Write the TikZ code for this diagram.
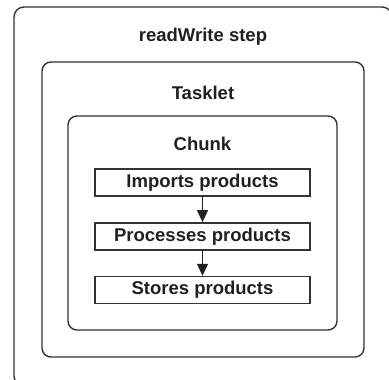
\documentclass[tikz,border=0pt]{standalone}
\usepackage{fontspec}
\setmainfont{Liberation Sans}
\usetikzlibrary{arrows.meta}
\definecolor{linegray}{HTML}{333333}
\definecolor{textblk}{HTML}{231F20}
\tikzset{
  container/.style={draw=linegray, line width=1.4pt, rounded corners=9pt},
  title/.style={text=textblk, font=\fontsize{18.5}{22}\selectfont\bfseries, inner sep=0pt},
  stepbox/.style={draw=linegray, line width=1.4pt, minimum width=215pt, minimum height=27pt,
    inner sep=0pt, text=textblk, font=\fontsize{18.5}{22}\selectfont\bfseries},
  flow/.style={draw=textblk, line width=1.3pt, -{Triangle[length=12pt,width=11pt]}, fill=textblk}
}
\begin{document}
\begin{tikzpicture}[x=1pt,y=-1pt]
\useasboundingbox (0,0) rectangle (389,380);
\clip (0,0) rectangle (389,380);
\draw[container, rounded corners=10pt] (14,7) rectangle (392,386);
\draw[container] (42,62) rectangle (364,357);
\draw[container] (68,116) rectangle (337,330);
\node[title] (rw) at (203,37) {readWrite step};
\node[title] (tasklet) at (203,93) {Tasklet};
\node[title] (chunk) at (202.5,143.5) {Chunk};
\node[stepbox] (imp) at (202.5,182.5) {Imports products};
\node[stepbox] (proc) at (202.5,236.3) {Processes products};
\node[stepbox] (store) at (202.5,290) {Stores products};
\draw[flow] (imp) -- (proc);
\draw[flow] (proc) -- (store);
\end{tikzpicture}
\end{document}
